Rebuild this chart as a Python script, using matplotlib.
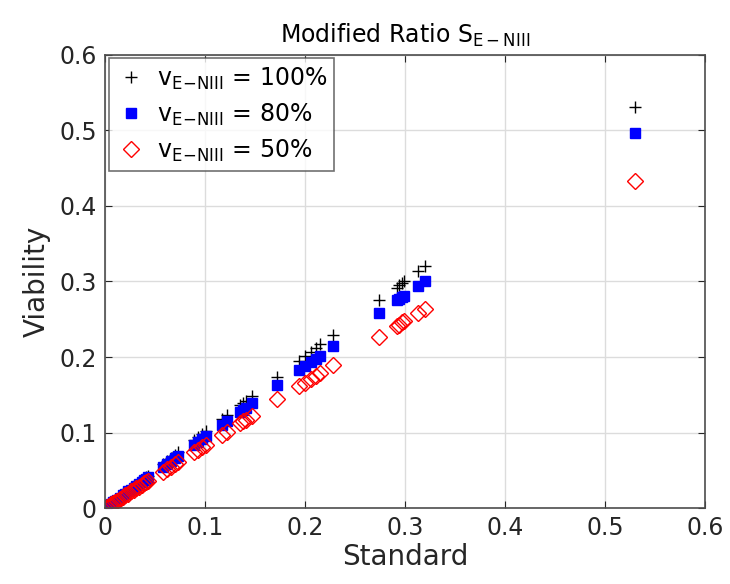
import numpy as np
import matplotlib.pyplot as plt

plt.rcParams['font.family'] = ['DejaVu Sans']
plt.rcParams['mathtext.fontset'] = 'dejavusans'

## Donnees
standard = [0.002, 0.004, 0.006, 0.008, 0.010, 0.012, 0.015, 0.018, 0.020, 0.023,
            0.026, 0.029, 0.031, 0.034, 0.037, 0.039, 0.041, 0.043,
            0.058, 0.062, 0.066, 0.070, 0.073,
            0.089, 0.093, 0.097, 0.101,
            0.117, 0.122, 0.135, 0.138, 0.141, 0.147,
            0.172,
            0.194, 0.200, 0.206, 0.211, 0.215, 0.228,
            0.274, 0.292, 0.294, 0.297, 0.299, 0.313, 0.320,
            0.530]
v100 = [0.002, 0.004, 0.006, 0.008, 0.010, 0.012, 0.015, 0.018, 0.020, 0.023,
        0.026, 0.029, 0.031, 0.034, 0.037, 0.039, 0.041, 0.043,
        0.058, 0.062, 0.066, 0.070, 0.074,
        0.090, 0.094, 0.098, 0.102,
        0.118, 0.123, 0.136, 0.139, 0.142, 0.149,
        0.173,
        0.195, 0.201, 0.207, 0.212, 0.217, 0.229,
        0.275, 0.292, 0.295, 0.298, 0.300, 0.314, 0.321,
        0.531]
v80 = [0.002, 0.004, 0.006, 0.008, 0.009, 0.011, 0.014, 0.017, 0.019, 0.022,
       0.024, 0.027, 0.029, 0.032, 0.035, 0.037, 0.039, 0.041,
       0.055, 0.058, 0.062, 0.066, 0.069,
       0.084, 0.088, 0.091, 0.095,
       0.110, 0.115, 0.127, 0.130, 0.133, 0.139,
       0.163,
       0.183, 0.188, 0.194, 0.198, 0.202, 0.214,
       0.258, 0.275, 0.277, 0.279, 0.281, 0.294, 0.300,
       0.497]
v50 = [0.002, 0.003, 0.005, 0.007, 0.008, 0.010, 0.012, 0.015, 0.017, 0.019,
       0.022, 0.024, 0.026, 0.028, 0.031, 0.033, 0.034, 0.036,
       0.048, 0.052, 0.055, 0.058, 0.061,
       0.074, 0.077, 0.081, 0.084,
       0.097, 0.101, 0.112, 0.115, 0.117, 0.122,
       0.144,
       0.161, 0.166, 0.171, 0.175, 0.179, 0.190,
       0.227, 0.241, 0.243, 0.246, 0.248, 0.258, 0.263,
       0.433]
ticks = [0, 0.1, 0.2, 0.3, 0.4, 0.5, 0.6]
tick_labels = ['0', '0.1', '0.2', '0.3', '0.4', '0.5', '0.6']

fig = plt.figure(figsize=(7.3, 5.84), dpi=100)
ax = fig.add_axes([0.1438, 0.130, 0.822, 0.776])

ax.plot(standard, v100, '+', color='black', ms=8.5, mew=1.0, label=r'v$_{\mathrm{E\!-\!NIII}}$ = 100%')
ax.plot(standard, v80, 's', color='blue', ms=7, label=r'v$_{\mathrm{E\!-\!NIII}}$ = 80%')
ax.plot(standard, v50, 'D', color='red', mfc='none', ms=8, mew=1.0, label=r'v$_{\mathrm{E\!-\!NIII}}$ = 50%')

ax.set_xlim(0, 0.6)
ax.set_ylim(0, 0.6)
ax.set_xticks(ticks)
ax.set_yticks(ticks)
ax.set_xticklabels(tick_labels)
ax.set_yticklabels(tick_labels)
ax.grid(True, color='#dcdcdc', lw=1)
ax.set_axisbelow(True)
ax.tick_params(direction='in', labelsize=17, colors='#262626', top=True, right=True, length=5, pad=6)
for s in ax.spines.values():
    s.set_color('#4d4d4d')
    s.set_linewidth(1.2)

ax.set_xlabel('Standard', fontsize=20, color='#262626', labelpad=2)
ax.set_ylabel('Viability', fontsize=20, color='#262626', labelpad=6)
ax.set_title(r'Modified Ratio S$_{\mathrm{E-NIII}}$', fontsize=17, color='black', pad=9)

leg = ax.legend(loc='upper left', fontsize=17, frameon=True, fancybox=False,
                borderaxespad=0.15, handletextpad=0.45, labelspacing=0.42, borderpad=0.3,
                handlelength=1.3)
leg.get_frame().set_edgecolor('#4d4d4d')
leg.get_frame().set_linewidth(1.2)

plt.savefig('out.png', dpi=100)
